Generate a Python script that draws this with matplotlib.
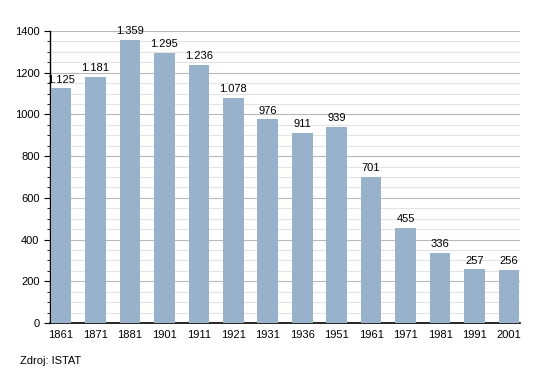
import matplotlib.pyplot as plt
import numpy as np

plt.rcParams['font.family'] = ['Liberation Sans', 'DejaVu Sans']

years = ['1861', '1871', '1881', '1901', '1911', '1921', '1931', '1936',
         '1951', '1961', '1971', '1981', '1991', '2001']
population = [1125, 1181, 1359, 1295, 1236, 1078, 976, 911, 939, 701, 455, 336, 257, 256]

fig = plt.figure(figsize=(5.5, 3.73), dpi=100)
ax = fig.add_axes([0.0909, 0.134, 0.8545, 0.783])

x = np.arange(len(years))
ax.bar(x, population, width=0.6, color='#98b2cc', zorder=3)

# value labels with dot as thousands separator
for xi, v in zip(x, population):
    lbl = '{:,}'.format(v).replace(',', '.')
    ax.text(xi, v + 18, lbl, ha='center', va='bottom', fontsize=8, zorder=4)

ax.set_xlim(-0.32, len(years) - 0.68)
ax.set_ylim(0, 1400)
ax.set_xticks(x)
ax.set_xticklabels(years, fontsize=8)
ax.set_yticks(np.arange(0, 1401, 200))
ax.set_yticks(np.arange(0, 1401, 50), minor=True)
ax.tick_params(axis='y', labelsize=8, length=4, direction='out')
ax.tick_params(axis='y', which='minor', length=2)
ax.tick_params(axis='x', length=0, pad=5)

ax.grid(axis='y', which='major', color='#b8b8b8', linewidth=0.8, zorder=0)
ax.grid(axis='y', which='minor', color='#e4e4e4', linewidth=0.8, zorder=0)
ax.set_axisbelow(True)

for s in ['top', 'right']:
    ax.spines[s].set_visible(False)
ax.spines['left'].set_linewidth(1.0)
ax.spines['bottom'].set_linewidth(1.2)

fig.text(0.036, 0.02, 'Zdroj: ISTAT', fontsize=8, ha='left', va='bottom')

fig.savefig('out.png', dpi=100)
